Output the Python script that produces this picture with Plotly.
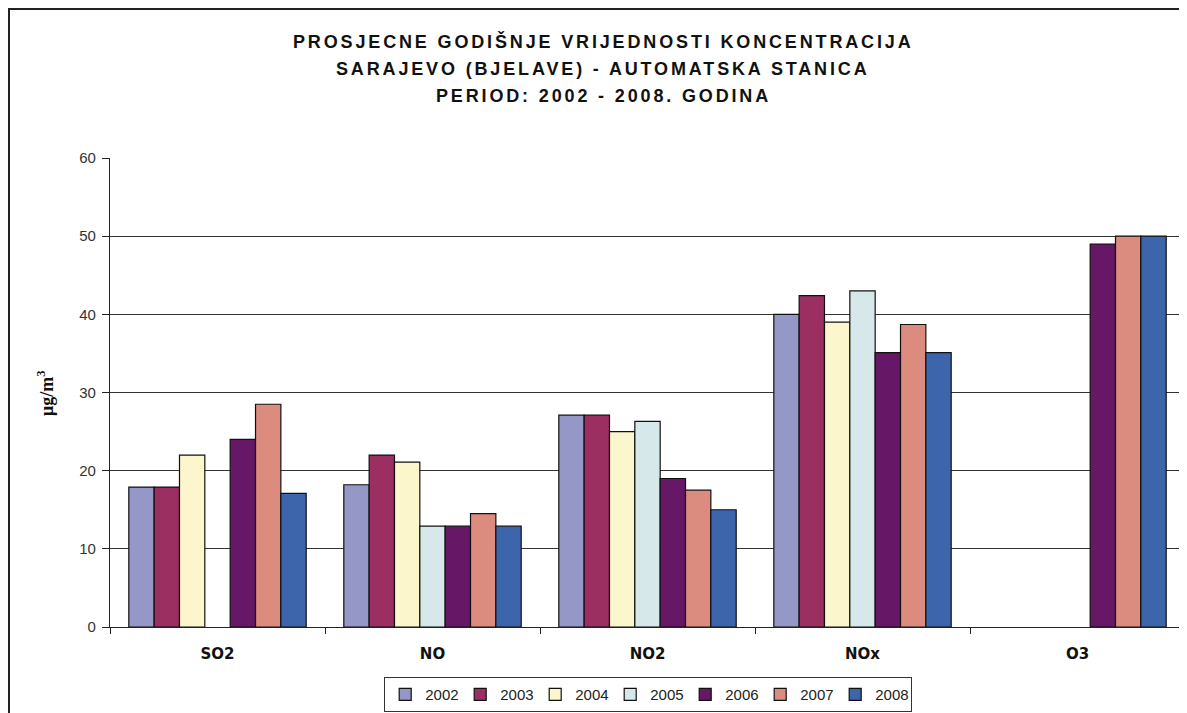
import plotly.graph_objects as go

categories = ["SO2", "NO", "NO2", "NOx", "O3"]
years = ["2002", "2003", "2004", "2005", "2006", "2007", "2008"]
v2002 = [17.9, 18.2, 27.1, 40.0, None]
v2003 = [17.9, 22.0, 27.1, 42.4, None]
v2004 = [22.0, 21.1, 25.0, 39.0, None]
v2005 = [None, 12.9, 26.3, 43.0, None]
v2006 = [24.0, 12.9, 19.0, 35.1, 49.0]
v2007 = [28.5, 14.5, 17.5, 38.7, 50.0]
v2008 = [17.1, 12.9, 15.0, 35.1, 50.0]
series = [v2002, v2003, v2004, v2005, v2006, v2007, v2008]
colors = ["#9597C6", "#9B2F62", "#FBF6CC", "#D7E8EA", "#661766", "#DC8B7F", "#3D65AC"]

# page has an 8px body margin; figure is sized to fit the window exactly
OFF = 8
W, H = 1187 - OFF, 713 - OFF
L, R, T, B = 110 - OFF, 2, 158 - OFF, 86
pw, ph = W - L - R, H - T - B

def px(x_page):
    return (x_page - OFF - L) / pw

def py(y_page):
    return (H - B - (y_page - OFF)) / ph

fig = go.Figure()
for yr, vals, c in zip(years, series, colors):
    fig.add_trace(go.Bar(
        x=categories, y=vals, name=yr,
        marker=dict(color=c, line=dict(color="#111111", width=1.2)),
    ))

fig.update_layout(
    width=W, height=H,
    margin=dict(l=L, r=R, t=T, b=B, autoexpand=False),
    paper_bgcolor="white", plot_bgcolor="white",
    barmode="group", bargap=0.175, bargroupgap=0,
    font=dict(family="Arial, Liberation Sans, sans-serif", color="#222222"),
    showlegend=True,
    legend=dict(
        orientation="h", x=px(648), xanchor="center", y=py(677), yanchor="top",
        bordercolor="#333333", borderwidth=1.2, bgcolor="white",
        font=dict(size=15, family="Arial, Liberation Sans, sans-serif", color="#222222"),
        itemwidth=30, tracegroupgap=0, entrywidthmode="pixels", entrywidth=30,
    ),
    xaxis=dict(
        showline=True, linecolor="#222222", linewidth=1.2,
        ticks="outside", tickson="boundaries", ticklen=6, tickcolor="#222222",
        ticklabelstandoff=13,
        tickfont=dict(size=15, family="Verdana, DejaVu Sans, sans-serif", color="#111111", weight="bold"),
        showgrid=False,
    ),
    yaxis=dict(
        range=[0, 60], dtick=10, tickmode="linear",
        showline=True, linecolor="#222222", linewidth=1.2,
        ticks="outside", ticklen=7, tickcolor="#222222",
        ticklabelstandoff=3,
        showgrid=True, gridcolor="#333333", gridwidth=1.2,
        tickfont=dict(size=15, color="#333333"),
        zeroline=False,
    ),
)

fig.add_annotation(
    text="<b>μg/m<sup>3</sup></b>", xref="paper", yref="paper",
    x=px(45), y=py(393), xanchor="center", yanchor="middle", textangle=-90,
    showarrow=False,
    font=dict(size=18, family="Liberation Serif, Times New Roman, serif", color="#111111"),
)

title_lines = [
    "PROSJECNE GODIŠNJE VRIJEDNOSTI KONCENTRACIJA",
    "SARAJEVO (BJELAVE) - AUTOMATSKA STANICA",
    "PERIOD: 2002 - 2008. GODINA",
]
for i, t in enumerate(title_lines):
    fig.add_annotation(
        text='<span style="letter-spacing:2.85px"><b>' + t + "</b></span>",
        xref="paper", yref="paper",
        x=px(603), y=py(42 + 27 * i), xanchor="center", yanchor="middle",
        showarrow=False,
        font=dict(size=18, family="Arial, Liberation Sans, sans-serif", color="#111111"),
    )

fig.add_shape(type="rect", xref="paper", yref="paper",
              x0=px(9), x1=px(1200), y0=py(9), y1=py(730),
              line=dict(color="#222222", width=2), layer="above")

fig.write_html("out.html")
